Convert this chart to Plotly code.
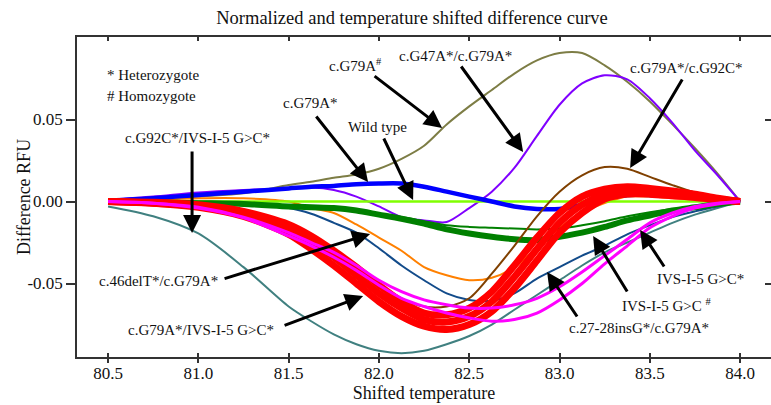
import plotly.graph_objects as go

# ---------------- data ----------------
temps = [80.5, 80.75, 81.0, 81.25, 81.5, 81.625, 81.75, 81.875, 82.0, 82.125, 82.25, 82.375,
         82.5, 82.625, 82.75, 82.875, 83.0, 83.125, 83.25, 83.375, 83.5, 83.625, 83.75, 83.875, 84.0]

olive_g79a_hom = [0.0, 0.001, 0.003, 0.005, 0.010, 0.012, 0.0145, 0.0165, 0.020, 0.026, 0.034, 0.047,
                  0.058, 0.068, 0.078, 0.086, 0.0905, 0.0905, 0.083, 0.073, 0.061, 0.047, 0.0325, 0.017, 0.0]
purple_g47a_g79a = [0.001, 0.003, 0.0055, 0.007, 0.008, 0.0085, 0.007, 0.003, -0.003, -0.0095, -0.0115, -0.0125,
                    -0.004, 0.006, 0.0205, 0.040, 0.059, 0.072, 0.077, 0.0745, 0.063, 0.048, 0.031, 0.016, 0.0]
blue_g79a_het = [0.0005, 0.002, 0.004, 0.006, 0.008, 0.009, 0.0095, 0.0105, 0.011, 0.011, 0.009, 0.006,
                 0.003, 0.0, -0.003, -0.0045, -0.0045, -0.002, 0.002, 0.004, 0.004, 0.004, 0.003, 0.0015, 0.0]
wild_type = [0.0] * 25
green_ivs_hom_a = [0.0, -0.0005, -0.001, -0.0015, -0.003, -0.0035, -0.004, -0.0055, -0.008, -0.0105, -0.0135, -0.017,
                   -0.0195, -0.0215, -0.023, -0.0235, -0.0215, -0.019, -0.0155, -0.0115, -0.0085, -0.0055, -0.0035, -0.0015, 0.0]
green_ivs_hom_b = [0.0, -0.0005, -0.001, -0.0015, -0.003, -0.0035, -0.004, -0.0055, -0.0075, -0.0095, -0.012, -0.0145,
                   -0.0155, -0.016, -0.0165, -0.017, -0.0165, -0.0145, -0.012, -0.009, -0.0065, -0.0045, -0.003, -0.0015, 0.0]
orange_46delt_g79a = [0.0, 0.001, 0.002, 0.002, 0.0, -0.004, -0.007, -0.014, -0.022, -0.030, -0.040, -0.045,
                      -0.048, -0.0465, -0.040, -0.028, -0.016, -0.007, -0.001, 0.003, 0.003, 0.002, 0.0015, 0.001, 0.0]
navy_27_28insg_g79a = [0.0, 0.0, -0.0005, -0.002, -0.004, -0.0075, -0.013, -0.019, -0.0285, -0.039, -0.048, -0.056,
                       -0.060, -0.0605, -0.056, -0.047, -0.040, -0.033, -0.027, -0.020, -0.0145, -0.0095, -0.006, -0.003, 0.0]
teal_g92c_ivs = [-0.003, -0.009, -0.0195, -0.040, -0.064, -0.073, -0.081, -0.087, -0.091, -0.0925, -0.091, -0.087,
                 -0.082, -0.075, -0.066, -0.057, -0.048, -0.039, -0.031, -0.025, -0.019, -0.013, -0.008, -0.004, 0.0]
brown_g79a_g92c = [0.0, -0.0005, -0.002, -0.006, -0.014, -0.021, -0.030, -0.040, -0.050, -0.059, -0.064, -0.064,
                   -0.059, -0.044, -0.027, -0.009, 0.006, 0.016, 0.021, 0.020, 0.015, 0.010, 0.0055, 0.0025, 0.0]
red_g79a_ivs_a = [0.0, -0.0005, -0.002, -0.006, -0.014, -0.021, -0.030, -0.040, -0.051, -0.061, -0.068, -0.069,
                  -0.065, -0.055, -0.039, -0.022, -0.007, 0.003, 0.0075, 0.009, 0.008, 0.0065, 0.0045, 0.002, 0.0]
red_g79a_ivs_b = [0.0, -0.001, -0.0028, -0.0075, -0.017, -0.025, -0.034, -0.045, -0.056, -0.065, -0.072, -0.0735,
                  -0.070, -0.061, -0.046, -0.029, -0.013, -0.002, 0.0045, 0.007, 0.0065, 0.005, 0.0035, 0.0015, 0.0]
red_g79a_ivs_c = [0.0, -0.001, -0.0035, -0.009, -0.020, -0.029, -0.039, -0.050, -0.061, -0.070, -0.076, -0.078,
                  -0.075, -0.067, -0.053, -0.036, -0.019, -0.007, 0.0015, 0.0045, 0.0045, 0.0035, 0.0025, 0.001, 0.0]
magenta_ivs_het_a = [0.0, -0.001, -0.0035, -0.0095, -0.019, -0.025, -0.031, -0.039, -0.048, -0.055, -0.060, -0.063,
                     -0.065, -0.065, -0.063, -0.059, -0.052, -0.043, -0.033, -0.023, -0.013, -0.007, -0.003, -0.001, 0.0]
magenta_ivs_het_b = [0.0, -0.001, -0.004, -0.010, -0.021, -0.027, -0.034, -0.042, -0.051, -0.059, -0.064, -0.068,
                     -0.071, -0.073, -0.072, -0.068, -0.060, -0.050, -0.038, -0.027, -0.016, -0.009, -0.004, -0.0015, 0.0]

x_ticks = [80.5, 81.0, 81.5, 82.0, 82.5, 83.0, 83.5, 84.0]
x_tick_text = ["80.5", "81.0", "81.5", "82.0", "82.5", "83.0", "83.5", "84.0"]
y_ticks = [-0.05, 0.0, 0.05]
y_tick_text = ["-0.05", "0.00", "0.05"]

# ---------------- figure ----------------
SERIF = "Liberation Serif, Times New Roman, serif"
W, H = 771, 405
ML, MR, MT, MB = 77, 0, 37, 48
X_RANGE = [80.328, 84.171]
Y_RANGE = [-0.0948, 0.1003]

series = [
    (olive_g79a_hom, "#7d7d45", 2),
    (purple_g47a_g79a, "#8000ff", 2),
    (teal_g92c_ivs, "#408080", 2),
    (navy_27_28insg_g79a, "#124b8a", 2),
    (orange_46delt_g79a, "#ff8000", 2),
    (wild_type, "#80ff00", 2.5),
    (blue_g79a_het, "#0000ff", 4.5),
    (green_ivs_hom_b, "#008000", 2),
    (green_ivs_hom_a, "#008000", 6),
    (brown_g79a_g92c, "#804000", 2),
    (red_g79a_ivs_a, "#ff0000", 7),
    (red_g79a_ivs_b, "#ff0000", 7),
    (red_g79a_ivs_c, "#ff0000", 7),
    (magenta_ivs_het_a, "#ff00ff", 3),
    (magenta_ivs_het_b, "#ff00ff", 3),
]

fig = go.Figure()
for vals, col, w in series:
    fig.add_trace(go.Scatter(x=temps, y=vals, mode="lines",
                             line=dict(color=col, width=w, shape="spline", smoothing=0.8),
                             showlegend=False, hoverinfo="skip"))
# helper trace so the overlaid tick-only axes exist
fig.add_trace(go.Scatter(x=[None], y=[None], xaxis="x2", yaxis="y2", showlegend=False))


def px2x(px):
    return 80.5 + (px - 108) / 180.57


def px2y(py):
    return (201.5 - py) / 1640.0


arrows = [
    ((373, 75), (442, 128)),
    ((460, 65), (523, 152)),
    ((683, 78), (630, 168)),
    ((315, 115), (368, 182)),
    ((383, 137), (413, 200)),
    ((192, 150), (192, 233)),
    ((223, 279), (370, 234)),
    ((283, 326), (363, 296)),
    ((665, 268), (640, 230)),
    ((628, 293), (593, 236)),
    ((578, 318), (547, 272)),
]
annotations = []
for (tx, ty), (hx, hy) in arrows:
    annotations.append(dict(x=px2x(hx), y=px2y(hy), ax=px2x(tx), ay=px2y(ty),
                            xref="x", yref="y", axref="x", ayref="y", text="",
                            showarrow=True, arrowhead=2, arrowsize=1.2, arrowwidth=3,
                            arrowcolor="black", standoff=0, startstandoff=0))

labels = [
    ("c.G79A<sup>#</sup>", 355, 65, "center"),
    ("c.G47A*/c.G79A*", 455, 56, "center"),
    ("c.G79A*/c.G92C*", 686, 68, "center"),
    ("c.G79A*", 310, 103, "center"),
    ("Wild type", 377, 127, "center"),
    ("c.G92C*/IVS-I-5 G&gt;C*", 197, 138, "center"),
    ("c.46delT*/c.G79A*", 158, 281, "center"),
    ("c.G79A*/IVS-I-5 G&gt;C*", 201, 330, "center"),
    ("IVS-I-5 G&gt;C*", 700, 279, "center"),
    ("IVS-I-5 G&gt;C <sup>#</sup>", 666, 305, "center"),
    ("c.27-28insG*/c.G79A*", 639, 328, "center"),
    ("* Heterozygote", 105, 75, "left"),
    ("# Homozygote", 105, 96, "left"),
]
for txt, cx, cy, anc in labels:
    annotations.append(dict(x=px2x(cx), y=px2y(cy), xref="x", yref="y", text=txt,
                            showarrow=False, xanchor=anc, yanchor="middle",
                            font=dict(family=SERIF, size=15, color="#111")))

annotations.append(dict(x=0, y=0.5, xref="paper", yref="paper", xshift=-53, text="Difference RFU",
                        textangle=-90, showarrow=False, xanchor="center", yanchor="middle",
                        font=dict(family=SERIF, size=18, color="#111")))

fig.update_layout(
    width=W, height=H,
    margin=dict(l=ML, r=MR, t=MT, b=MB, pad=0),
    paper_bgcolor="white", plot_bgcolor="white",
    title=dict(text="Normalized and temperature shifted difference curve",
               x=412 / W, xanchor="center", y=1 - 18 / H, yanchor="middle",
               font=dict(family=SERIF, size=18.5, color="#111")),
    annotations=annotations,
    xaxis=dict(range=X_RANGE, tickvals=x_ticks, ticktext=x_tick_text,
               ticks="inside", ticklen=4, tickwidth=1.5, tickcolor="#333",
               showline=True, linecolor="#333", linewidth=1.5, mirror="allticks",
               showgrid=False, zeroline=False,
               tickfont=dict(family=SERIF, size=17, color="#111"),
               title=dict(text="Shifted temperature", standoff=4,
                          font=dict(family=SERIF, size=18, color="#111"))),
    xaxis2=dict(range=X_RANGE, overlaying="x", anchor="y", side="bottom",
                tickvals=x_ticks, showticklabels=False, ticks="outside", ticklen=5,
                tickwidth=1.5, tickcolor="#333", showline=False, showgrid=False, zeroline=False),
    yaxis=dict(range=Y_RANGE, tickvals=y_ticks, ticktext=y_tick_text,
               ticks="outside", ticklen=9, tickwidth=1.5, tickcolor="#333",
               showline=True, linecolor="#333", linewidth=1.5, mirror=False,
               showgrid=False, zeroline=False,
               tickfont=dict(family=SERIF, size=17, color="#111")),
    yaxis2=dict(range=Y_RANGE, overlaying="y", anchor="x", side="right",
                tickvals=y_ticks, showticklabels=False, ticks="inside", ticklen=6,
                tickwidth=1.5, tickcolor="#333", showline=False, showgrid=False, zeroline=False),
)

fig.write_html("out.html", config={"displayModeBar": False},
               post_script="document.body.style.margin='0px';")
